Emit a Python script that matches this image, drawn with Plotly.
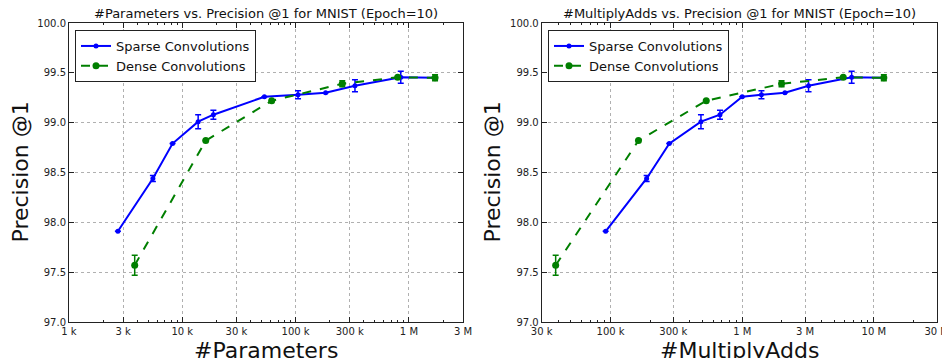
import plotly.graph_objects as go
import math

# ---- data ----
titles = ["#Parameters vs. Precision @1 for MNIST (Epoch=10)",
          "#MultiplyAdds vs. Precision @1 for MNIST (Epoch=10)"]
xlabels = ["#Parameters", "#MultiplyAdds"]

# Left panel: #Parameters
sparse_params = [2700, 5500, 8200, 13800, 18800, 53000, 105000, 184000, 334000, 847000, 1700000]
sparse_prec_l = [97.91, 98.44, 98.79, 99.01, 99.08, 99.26, 99.28, 99.30, 99.37, 99.455, 99.45]
sparse_err_l = [0.0, 0.03, 0.0, 0.07, 0.045, 0.0, 0.04, 0.0, 0.06, 0.06, 0.0]

dense_params = [3800, 16100, 61500, 258000, 796000, 1700000]
dense_prec_l = [97.57, 98.82, 99.22, 99.39, 99.455, 99.45]
dense_err_l = [0.10, 0.0, 0.0, 0.03, 0.0, 0.03]

# Right panel: #MultiplyAdds
sparse_madds = [91800, 188000, 279000, 486000, 678000, 1000000, 1400000, 2110000, 3190000, 6780000, 11900000]
sparse_prec_r = [97.91, 98.44, 98.79, 99.01, 99.08, 99.26, 99.28, 99.30, 99.37, 99.455, 99.45]
sparse_err_r = [0.0, 0.03, 0.0, 0.07, 0.045, 0.0, 0.04, 0.0, 0.06, 0.06, 0.0]

dense_madds = [38300, 163000, 533000, 1990000, 5850000, 11900000]
dense_prec_r = [97.57, 98.82, 99.22, 99.39, 99.455, 99.45]
dense_err_r = [0.10, 0.0, 0.0, 0.03, 0.0, 0.03]

tickvals_l = [1e3, 3e3, 1e4, 3e4, 1e5, 3e5, 1e6, 3e6]
ticktext_l = ["1 k", "3 k", "10 k", "30 k", "100 k", "300 k", "1 M", "3 M"]
tickvals_r = [3e4, 1e5, 3e5, 1e6, 3e6, 1e7, 3e7]
ticktext_r = ["30 k", "100 k", "300 k", "1 M", "3 M", "10 M", "30 M"]
yticks = [97.0, 97.5, 98.0, 98.5, 99.0, 99.5, 100.0]

BLUE = "#0000ff"
GREEN = "#007f00"
FONT = "DejaVu Sans"

fig = go.Figure()

def add_panel(xs, ys, es, xd, yd, ed, xa, ya, leg):
    fig.add_trace(go.Scatter(
        x=xs, y=ys, mode="lines+markers", name="Sparse Convolutions",
        line=dict(color=BLUE, width=2), marker=dict(color=BLUE, size=5),
        error_y=dict(type="data", array=es, color=BLUE, thickness=1.5, width=3),
        xaxis=xa, yaxis=ya, legend=leg))
    fig.add_trace(go.Scatter(
        x=xd, y=yd, mode="lines+markers", name="Dense Convolutions",
        line=dict(color=GREEN, width=2, dash="dash"), marker=dict(color=GREEN, size=7),
        error_y=dict(type="data", array=ed, color=GREEN, thickness=1.5, width=3),
        xaxis=xa, yaxis=ya, legend=leg))

add_panel(sparse_params, sparse_prec_l, sparse_err_l, dense_params, dense_prec_l, dense_err_l, "x", "y", "legend")
add_panel(sparse_madds, sparse_prec_r, sparse_err_r, dense_madds, dense_prec_r, dense_err_r, "x2", "y2", "legend2")

# page body has an 8px margin: paper coordinates = screen coordinates - 8
OFF = 8
W, H = 950 - OFF, 358 - OFF
def px(x):
    return (x - OFF) / W
def py(y):
    return 1 - (y - OFF) / H

yb, yt = py(322), py(23)
common_x = dict(type="log", showline=True, linecolor="#222", linewidth=1, mirror="allticks",
                ticks="inside", ticklen=5, tickcolor="#222",
                showgrid=True, gridcolor="#b0b0b0", griddash="dot", gridwidth=1,
                tickfont=dict(family=FONT, size=10, color="#222"), zeroline=False,
                minor=dict(ticks="inside", ticklen=2, tickcolor="#222", dtick="D1", showgrid=False))
common_y = dict(range=[97.0, 100.0], tickvals=yticks, ticktext=[f"{v:.1f}" for v in yticks],
                showline=True, linecolor="#222", linewidth=1, mirror="allticks",
                ticks="inside", ticklen=5, tickcolor="#222",
                showgrid=True, gridcolor="#b0b0b0", griddash="dot", gridwidth=1,
                tickfont=dict(family=FONT, size=10, color="#222"), zeroline=False)

legstyle = dict(xanchor="left", yanchor="top", bgcolor="white", bordercolor="#222", borderwidth=1,
                font=dict(family=FONT, size=13, color="#111"), tracegroupgap=0, itemwidth=30)

fig.update_layout(
    width=W, height=H, margin=dict(l=0, r=0, t=0, b=0, autoexpand=False),
    plot_bgcolor="white", paper_bgcolor="white",
    font=dict(family=FONT, color="#111"),
    xaxis=dict(common_x, domain=[px(69), px(463)], range=[math.log10(1e3), math.log10(3e6)],
               tickvals=tickvals_l, ticktext=ticktext_l, anchor="y"),
    yaxis=dict(common_y, domain=[yb, yt], anchor="x"),
    xaxis2=dict(common_x, domain=[px(541.7), px(936.7)], range=[math.log10(3e4), math.log10(3e7)],
                tickvals=tickvals_r, ticktext=ticktext_r, anchor="y2"),
    yaxis2=dict(common_y, domain=[yb, yt], anchor="x2"),
    showlegend=True,
    legend=dict(legstyle, x=px(75), y=py(30)),
    legend2=dict(legstyle, x=px(548), y=py(30)),
)

ann = []
centers = [(px(69) + px(463)) / 2, (px(541.7) + px(936.7)) / 2]
for i in range(2):
    ann.append(dict(text=titles[i], x=centers[i], y=py(14), xref="paper", yref="paper",
                    xanchor="center", yanchor="middle", showarrow=False,
                    font=dict(family=FONT, size=13, color="#111")))
    ann.append(dict(text=xlabels[i], x=centers[i], y=py(350), xref="paper", yref="paper",
                    xanchor="center", yanchor="middle", showarrow=False,
                    font=dict(family=FONT, size=22, color="#111")))
for xc in [20, 492]:
    ann.append(dict(text="Precision @1", x=px(xc), y=(yb + yt) / 2, xref="paper", yref="paper",
                    xanchor="center", yanchor="middle", showarrow=False, textangle=-90,
                    font=dict(family=FONT, size=22, color="#111")))
fig.update_layout(annotations=ann)

fig.write_html("out.html")
